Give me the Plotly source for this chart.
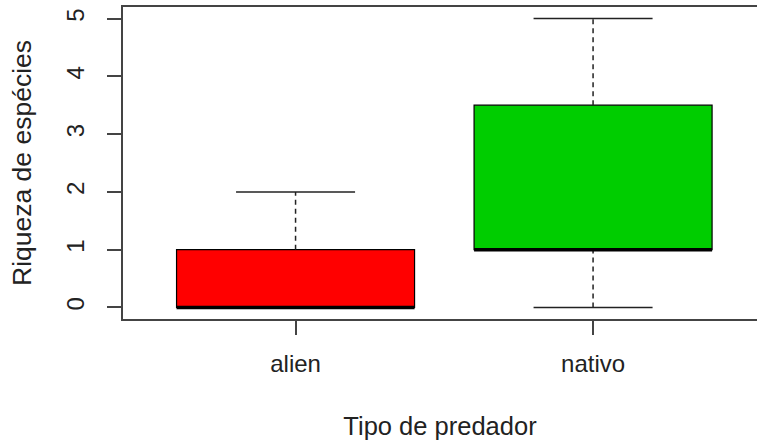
import plotly.graph_objects as go

# Five-number summaries per predator type
categories = ["alien", "nativo"]
lower = [0, 0]
q1 = [0, 1]
median = [0, 1]
q3 = [1, 3.5]
upper = [2, 5]
fill_colors = ["#FF0000", "#00CD00"]

y_ticks = [0, 1, 2, 3, 4, 5]

positions = list(range(1, len(categories) + 1))
box_half = 0.4
cap_half = 0.2

fig = go.Figure()

# Boxes (q1 -> q3)
fig.add_trace(go.Bar(
    x=positions,
    base=q1,
    y=[b - a for a, b in zip(q1, q3)],
    width=2 * box_half,
    marker=dict(color=fill_colors, line=dict(color="black", width=1.2)),
    hoverinfo="skip",
))

# Dashed whiskers
wx, wy = [], []
for p, lo, a, b, hi in zip(positions, lower, q1, q3, upper):
    wx += [p, p, None, p, p, None]
    wy += [b, hi, None, lo, a, None]
fig.add_trace(go.Scatter(x=wx, y=wy, mode="lines",
                         line=dict(color="#222222", width=1.5, dash="5px,4px"),
                         hoverinfo="skip"))

# Whisker caps
cx, cy = [], []
for p, lo, hi in zip(positions, lower, upper):
    cx += [p - cap_half, p + cap_half, None, p - cap_half, p + cap_half, None]
    cy += [hi, hi, None, lo, lo, None]
fig.add_trace(go.Scatter(x=cx, y=cy, mode="lines",
                         line=dict(color="#222222", width=1.5),
                         hoverinfo="skip"))

# Medians
mx, my = [], []
for p, m in zip(positions, median):
    mx += [p - box_half, p + box_half, None]
    my += [m, m, None]
fig.add_trace(go.Scatter(x=mx, y=my, mode="lines",
                         line=dict(color="black", width=3.5),
                         hoverinfo="skip"))

font_family = "Liberation Sans, Arial, sans-serif"
axis_color = "#444444"
text_color = "#222222"

fig.update_layout(
    width=757, height=441,
    margin=dict(l=123, r=0, t=7, b=122),
    paper_bgcolor="white", plot_bgcolor="white",
    showlegend=False,
    font=dict(family=font_family, size=22, color=text_color),
    xaxis=dict(
        range=[0.42, 2.551],
        tickvals=positions, ticktext=categories,
        tickfont=dict(family=font_family, size=24, color=text_color),
        ticks="outside", ticklen=14, tickwidth=1.5, tickcolor=axis_color,
        showline=True, linecolor=axis_color, linewidth=2, mirror=True,
        showgrid=False, zeroline=False,
        ticklabelstandoff=8,
        title=dict(text="Tipo de predador", standoff=41,
                   font=dict(family=font_family, size=25.5, color=text_color)),
    ),
    yaxis=dict(
        range=[-0.2, 5.2],
        tickvals=y_ticks,
        tickangle=-90,
        tickfont=dict(family=font_family, size=24, color=text_color),
        ticks="outside", ticklen=14, tickwidth=1.5, tickcolor=axis_color,
        showline=True, linecolor=axis_color, linewidth=2, mirror=False,
        showgrid=False, zeroline=False,
        ticklabelstandoff=13,
        title=dict(text="Riqueza de espécies", standoff=23,
                   font=dict(family=font_family, size=26.5, color=text_color)),
    ),
)

fig.write_html("out.html")
